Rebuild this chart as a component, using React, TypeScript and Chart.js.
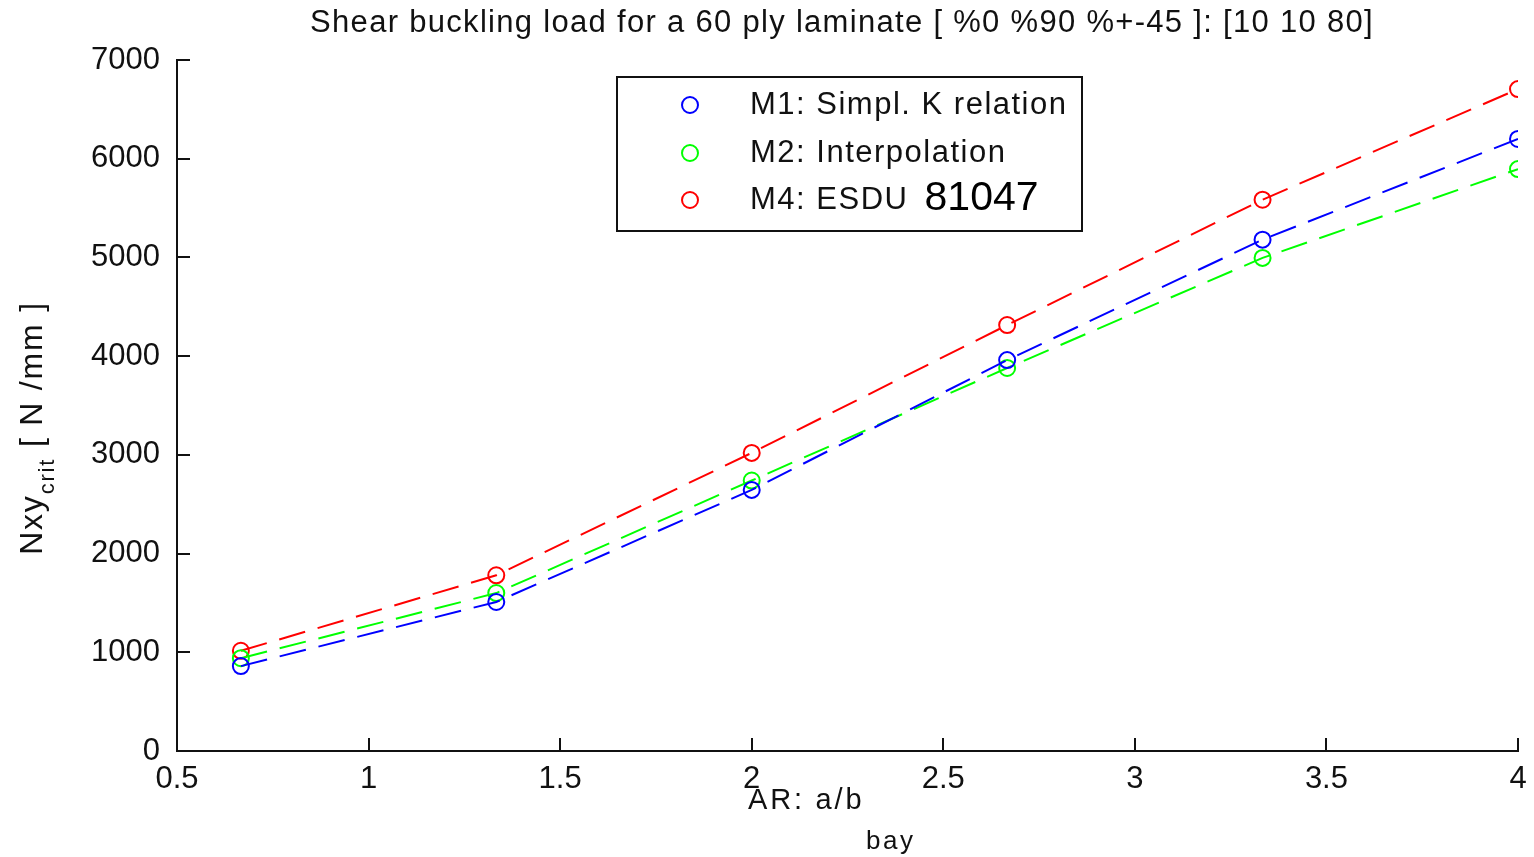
import React, { useEffect, useRef } from "react";
import { Chart, registerables } from "chart.js";

Chart.register(...registerables);

const aspectRatios = [0.6667, 1.3333, 2, 2.6667, 3.3333, 4];
const m1Values = [860, 1510, 2645, 3960, 5180, 6200];
const m2Values = [940, 1600, 2740, 3880, 4995, 5895];
const m4Values = [1015, 1780, 3020, 4315, 5585, 6705];

const seriesNames = ["M1: Simpl. K relation", "M2: Interpolation", "M4: ESDU "];
const seriesNameSuffix = ["", "", "81047"];
const seriesColors = ["#0000ff", "#00ff00", "#ff0000"];

const xTicks = [0.5, 1, 1.5, 2, 2.5, 3, 3.5, 4];
const xTickLabels = ["0.5", "1", "1.5", "2", "2.5", "3", "3.5", "4"];
const yTicks = [0, 1000, 2000, 3000, 4000, 5000, 6000, 7000];
const yTickLabels = ["0", "1000", "2000", "3000", "4000", "5000", "6000", "7000"];

const titleText = "Shear buckling load for a 60 ply laminate [ %0 %90 %+-45 ]: [10 10 80]";
const xLabelMain = "AR: a/b ";
const xLabelSub = "bay";
const yLabelMain = "Nxy";
const yLabelSub = "crit";
const yLabelTail = " [ N /mm ]";

const FONT = "'Liberation Sans', Arial, sans-serif";
const INK = "#111";

function spacing(ctx: any, px: number) {
  try { ctx.letterSpacing = px + "px"; } catch (e) { /* ignore */ }
}

const decorPlugin = {
  id: "decor",
  afterDraw(chart: any) {
    const ctx = chart.ctx as any;
    const area = chart.chartArea;
    const xs = chart.scales.x;
    const ys = chart.scales.y;
    ctx.save();
    // inward tick marks
    ctx.strokeStyle = INK;
    ctx.lineWidth = 2;
    ctx.beginPath();
    xTicks.forEach((v) => {
      const px = Math.round(xs.getPixelForValue(v));
      ctx.moveTo(px, area.bottom);
      ctx.lineTo(px, area.bottom - 13);
    });
    yTicks.forEach((v) => {
      const py = Math.round(ys.getPixelForValue(v));
      ctx.moveTo(area.left, py);
      ctx.lineTo(area.left + 13, py);
    });
    ctx.stroke();

    // title
    ctx.fillStyle = INK;
    ctx.textBaseline = "middle";
    ctx.textAlign = "center";
    ctx.font = `31px ${FONT}`;
    spacing(ctx, 1.3);
    ctx.fillText(titleText, 842, 23);

    // x label
    ctx.textAlign = "left";
    spacing(ctx, 2.8);
    ctx.font = `29px ${FONT}`;
    ctx.fillText(xLabelMain, 748, 801);
    spacing(ctx, 2.5);
    ctx.font = `26px ${FONT}`;
    ctx.fillText(xLabelSub, 866, 842);

    // y label
    ctx.save();
    ctx.translate(33, 428);
    ctx.rotate(-Math.PI / 2);
    spacing(ctx, 1.8);
    ctx.font = `32px ${FONT}`;
    const w1 = ctx.measureText(yLabelMain).width;
    const w3 = ctx.measureText(yLabelTail).width;
    ctx.font = `22px ${FONT}`;
    const w2 = ctx.measureText(yLabelSub).width;
    let cx = -(w1 + w2 + w3) / 2;
    ctx.font = `32px ${FONT}`;
    ctx.fillText(yLabelMain, cx, 0);
    cx += w1;
    ctx.font = `22px ${FONT}`;
    ctx.fillText(yLabelSub, cx, 15);
    cx += w2;
    ctx.font = `32px ${FONT}`;
    ctx.fillText(yLabelTail, cx, 0);
    ctx.restore();

    // legend
    const lx = 617, ly = 77, lw = 465, lh = 154;
    ctx.fillStyle = "#fff";
    ctx.fillRect(lx, ly, lw, lh);
    ctx.strokeStyle = INK;
    ctx.lineWidth = 2;
    ctx.strokeRect(lx, ly, lw, lh);
    const rowY = [105, 153, 200];
    seriesNames.forEach((name, i) => {
      ctx.beginPath();
      ctx.strokeStyle = seriesColors[i];
      ctx.lineWidth = 2;
      ctx.arc(690, rowY[i], 8, 0, Math.PI * 2);
      ctx.stroke();
      ctx.fillStyle = INK;
      ctx.textAlign = "left";
      spacing(ctx, 1.5);
      ctx.font = `31px ${FONT}`;
      ctx.fillText(name, 750, rowY[i]);
      if (seriesNameSuffix[i]) {
        const w = ctx.measureText(name).width;
        ctx.fillStyle = "#000";
        spacing(ctx, 0);
        ctx.font = `41px ${FONT}`;
        ctx.fillText(seriesNameSuffix[i], 750 + w + 6, rowY[i] - 1);
      }
    });
    ctx.restore();
  },
};

export default function App() {
  const ref = useRef<HTMLCanvasElement | null>(null);
  useEffect(() => {
    if (!ref.current) return;
    const series = [m1Values, m2Values, m4Values];
    const chart = new Chart(ref.current, {
      type: "scatter",
      data: {
        datasets: series.map((vals, i) => ({
          label: seriesNames[i] + seriesNameSuffix[i],
          data: aspectRatios.map((x, j) => ({ x, y: vals[j] })),
          showLine: true,
          borderColor: seriesColors[i],
          backgroundColor: "rgba(0,0,0,0)",
          borderWidth: 2,
          borderDash: [27, 13],
          pointRadius: 8,
          pointBorderWidth: 2,
          pointBorderColor: seriesColors[i],
          pointBackgroundColor: "rgba(0,0,0,0)",
          pointStyle: "circle",
        })),
      },
      options: {
        responsive: false,
        animation: false,
        layout: { padding: { top: 60, right: 16, left: 0, bottom: 0 } },
        plugins: { legend: { display: false }, title: { display: false }, tooltip: { enabled: false } },
        scales: {
          x: {
            type: "linear",
            min: 0.5,
            max: 4,
            afterFit: (s: any) => { s.height = 106; s.paddingRight = 0; s.paddingLeft = 0; },
            afterBuildTicks: (s: any) => { s.ticks = xTicks.map((v) => ({ value: v })); },
            ticks: {
              autoSkip: false,
              maxRotation: 0,
              padding: 10,
              color: INK,
              font: { family: FONT, size: 31 },
              callback: (_v: any, i: number) => xTickLabels[i],
            },
            grid: { display: true, drawOnChartArea: false, drawTicks: false },
            border: { display: true, color: INK, width: 2 },
          },
          y: {
            type: "linear",
            min: 0,
            max: 7000,
            afterFit: (s: any) => { s.width = 177; s.paddingTop = 0; s.paddingBottom = 0; },
            afterBuildTicks: (s: any) => { s.ticks = yTicks.map((v) => ({ value: v })); },
            ticks: {
              autoSkip: false,
              padding: 17,
              color: INK,
              font: { family: FONT, size: 31 },
              callback: (_v: any, i: number) => yTickLabels[i],
            },
            grid: { display: true, drawOnChartArea: false, drawTicks: false },
            border: { display: true, color: INK, width: 2 },
          },
        },
      },
      plugins: [decorPlugin],
    });
    return () => chart.destroy();
  }, []);
  return (
    <div style={{ position: "absolute", left: 0, top: 0, width: 1534, height: 857, background: "#fff" }}>
      <canvas ref={ref} width={1534} height={857} style={{ display: "block" }} />
    </div>
  );
}
